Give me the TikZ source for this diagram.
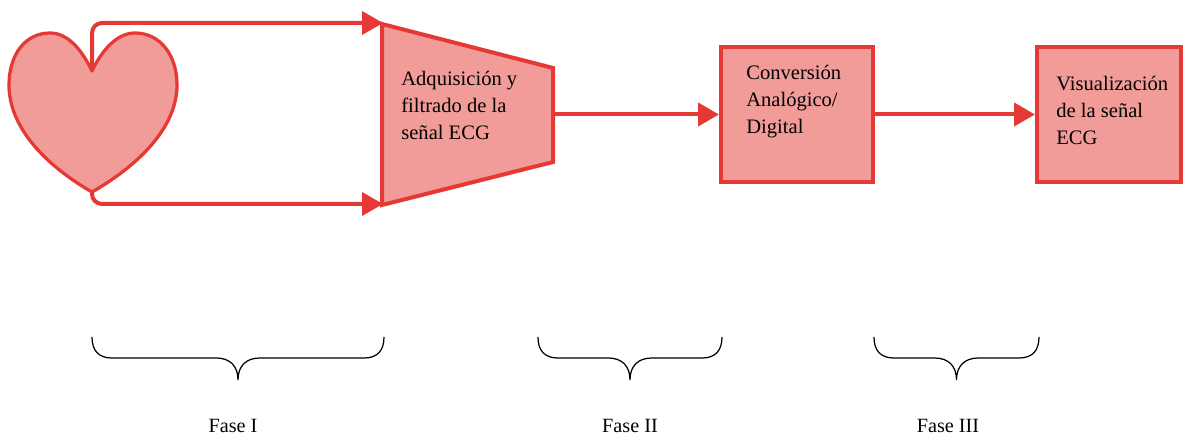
\documentclass[tikz,border=0pt]{standalone}
\usepackage{fontspec}
\setmainfont{Liberation Serif}
\usetikzlibrary{arrows.meta}
\definecolor{linea}{HTML}{E53935}
\definecolor{relleno}{HTML}{F19C99}
\tikzset{
    bloque/.style={draw=linea, fill=relleno, line width=0.08cm, minimum height=2.7cm, inner sep=0pt},
    flecha/.style={draw=linea, line width=0.08cm, -{Triangle[length=0.42cm,width=0.46cm]}},
    rotulo/.style={anchor=north west, align=left, inner sep=0pt, font=\fontsize{11.7}{15.3}\selectfont},
    fase/.style={inner sep=0pt, font=\fontsize{11.5}{14}\selectfont},
    llave/.style={draw=black, line width=0.7pt}
}
\newcommand{\faseLlave}[2]{
    \draw[llave] (#1,337) .. controls (#1,350) and (#1+6,358) .. (#1+20,358)
        -- ({(#1+#2)/2-22},358) .. controls ({(#1+#2)/2-8},358) and ({(#1+#2)/2},366) .. ({(#1+#2)/2},380)
        .. controls ({(#1+#2)/2},366) and ({(#1+#2)/2+8},358) .. ({(#1+#2)/2+22},358)
        -- (#2-20,358) .. controls (#2-6,358) and (#2,350) .. (#2,337);
}
\begin{document}
\begin{tikzpicture}[x=0.02cm, y=-0.02cm]
    \useasboundingbox (0,0) rectangle (1183,435);
    \coordinate (cor_sup) at (92,71);
    \coordinate (cor_inf) at (92,192);
    \coordinate (adq_si) at (382,24);
    \coordinate (adq_sd) at (553,68);
    \coordinate (adq_id) at (553,162);
    \coordinate (adq_ii) at (382,205);
    \coordinate (adq_der) at (553,114.5);
    \coordinate (adq_sup) at (383,23);
    \coordinate (adq_inf) at (383,204);
    \draw[draw=linea, fill=relleno, line width=0.065cm, line join=round] (cor_sup)
        .. controls (82,50) and (68,33) .. (50,33)
        .. controls (25,33) and (9,55) .. (9,85)
        .. controls (9,130) and (50,168) .. (cor_inf)
        .. controls (134,168) and (177,130) .. (177,85)
        .. controls (177,55) and (160,33) .. (135,33)
        .. controls (117,33) and (102,50) .. (cor_sup) -- cycle;
    \draw[draw=linea, fill=relleno, line width=0.08cm] (adq_si) -- (adq_sd) -- (adq_id) -- (adq_ii) -- cycle;
    \node[bloque, minimum width=3.04cm] (conv) at (797,114.5) {};
    \node[bloque, minimum width=2.88cm] (vis) at (1109,114.5) {};
    \node[rotulo] (adq_txt) at (401,71) {Adquisición y\\filtrado de la\\señal ECG};
    \node[rotulo] (conv_txt) at (746,65) {Conversión\\Analógico/\\Digital};
    \node[rotulo] (vis_txt) at (1056,76) {Visualización\\de la señal\\ECG};
    \draw[flecha, rounded corners=0.2cm] (cor_sup) -- (92,23) -- (adq_sup);
    \draw[flecha, rounded corners=0.2cm] (cor_inf) -- (92,204) -- (adq_inf);
    \draw[flecha] (adq_der) -- (conv);
    \draw[flecha] (conv) -- (vis);
    \faseLlave{92}{384}
    \faseLlave{538}{722}
    \faseLlave{874}{1039}
    \node[fase] (fase1) at (233,426) {Fase I};
    \node[fase] (fase2) at (630,426) {Fase II};
    \node[fase] (fase3) at (948,426) {Fase III};
\end{tikzpicture}
\end{document}
